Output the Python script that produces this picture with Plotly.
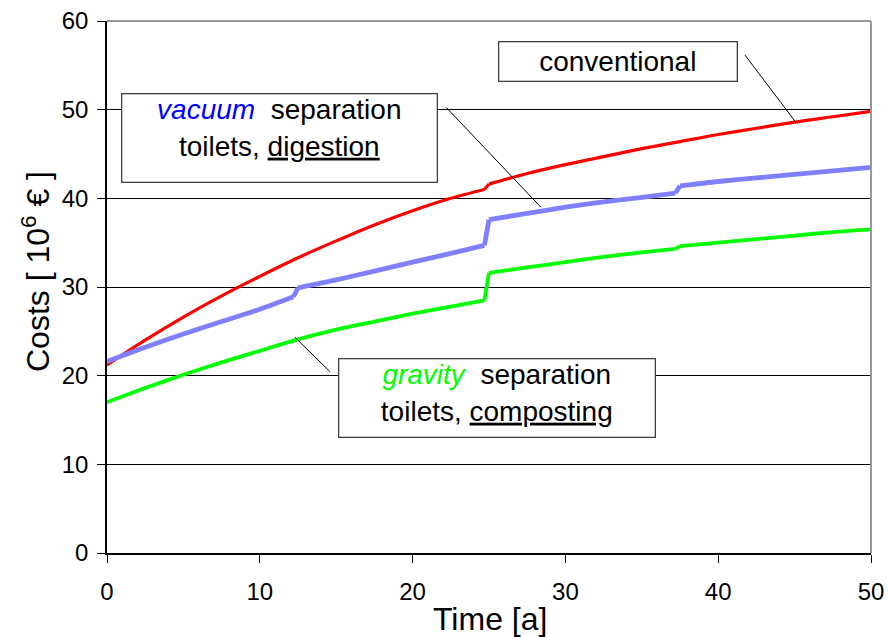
import plotly.graph_objects as go

# ---- data ----
conv_x = [0, 2.5, 5, 7.5, 10, 12.5, 15, 17.5, 20, 22.5, 24.7, 25.0, 27.5, 30, 32.5, 35, 37.5, 40, 42.5, 45, 47.5, 50]
conv_y = [21.2, 24.0, 26.6, 29.0, 31.2, 33.3, 35.2, 37.0, 38.6, 40.0, 41.0, 41.6, 42.8, 43.8, 44.7, 45.6, 46.4, 47.2, 47.9, 48.6, 49.2, 49.8]

vac_x = [0, 2.5, 5, 7.5, 10, 12.2, 12.5, 15, 17.5, 20, 22.5, 24.7, 25.0, 27.5, 30, 32.5, 35, 37.2, 37.5, 40, 42.5, 45, 47.5, 50]
vac_y = [21.6, 23.2, 24.7, 26.1, 27.5, 28.9, 29.9, 30.8, 31.8, 32.8, 33.8, 34.7, 37.6, 38.3, 39.0, 39.6, 40.1, 40.6, 41.4, 41.9, 42.3, 42.7, 43.1, 43.5]

grav_x = [0, 2.5, 5, 7.5, 10, 12.5, 15, 17.5, 20, 22.5, 24.7, 25.0, 27.5, 30, 32.5, 35, 37.2, 37.5, 40, 42.5, 45, 47.5, 50]
grav_y = [17.0, 18.6, 20.1, 21.5, 22.8, 24.1, 25.2, 26.1, 27.0, 27.8, 28.5, 31.6, 32.2, 32.8, 33.4, 33.9, 34.3, 34.6, 35.0, 35.4, 35.8, 36.2, 36.5]

x_ticks = [0, 10, 20, 30, 40, 50]
y_ticks = [0, 10, 20, 30, 40, 50, 60]

label_conv = "conventional"
label_vac = "<span style='color:#0000FF'><i>vacuum</i></span>  separation<br>toilets, <u>digestion</u>"
label_grav = "<span style='color:#00FF00'><i>gravity</i></span>  separation<br>toilets, <u>composting</u>"

FONT = "Liberation Sans, Arial, sans-serif"


def pieces(xs, ys, gap=0.5):
    """Split a series at its step jumps: smooth parts (spline) and jump parts (linear)."""
    out = []
    start = 0
    for i in range(1, len(xs)):
        if xs[i] - xs[i - 1] < gap:
            out.append(("spline", xs[start:i], ys[start:i]))
            out.append(("linear", xs[i - 1:i + 1], ys[i - 1:i + 1]))
            start = i
    out.append(("spline", xs[start:], ys[start:]))
    return out


fig = go.Figure()
for xs, ys, color, width in [
    (conv_x, conv_y, "#FF0000", 3.2),
    (vac_x, vac_y, "#8080FF", 4.8),
    (grav_x, grav_y, "#00FF00", 3.8),
]:
    for shape, px, py in pieces(xs, ys):
        fig.add_trace(go.Scatter(x=px, y=py, mode="lines",
                                 line=dict(color=color, width=width, shape=shape, smoothing=0.8),
                                 hoverinfo="skip"))

# leader lines (annotation pointers)
leaders = [
    ((41.75, 56.16), (45.1, 48.53)),
    ((22.19, 50.27), (28.40, 38.99)),
    ((12.30, 24.33), (14.59, 20.45)),
]
for (x0, y0), (x1, y1) in leaders:
    fig.add_shape(type="line", xref="x", yref="y", x0=x0, y0=y0, x1=x1, y1=y1,
                  line=dict(color="black", width=1), layer="above")

# top and right frame (gray)
fig.add_shape(type="line", xref="paper", yref="paper", x0=0, y0=1, x1=1, y1=1,
              line=dict(color="#999999", width=2), layer="above")
fig.add_shape(type="line", xref="paper", yref="paper", x0=1, y0=0, x1=1, y1=1,
              line=dict(color="#999999", width=2), layer="above")

box_common = dict(showarrow=False, bgcolor="white", bordercolor="#404040", borderwidth=1.3,
                  borderpad=0, font=dict(family=FONT, size=28, color="black"), align="center",
                  xref="x", yref="y")
fig.add_annotation(text=label_conv, x=33.41, y=55.43, width=237, height=38, **box_common)
fig.add_annotation(text=label_vac, x=11.26, y=46.75, width=314, height=87, valign="top", **box_common)
fig.add_annotation(text=label_grav, x=25.5, y=17.5, width=315, height=77, valign="top", **box_common)

# axis titles
fig.add_annotation(text="Time [a]", xref="paper", yref="paper", x=(490 - 107) / 764, y=-(619 - 553) / 532,
                   showarrow=False, font=dict(family=FONT, size=32, color="black"),
                   xanchor="center", yanchor="middle")
fig.add_annotation(text="Costs [ 10<sup>6</sup> € ]", xref="paper", yref="paper", x=-(107 - 36) / 764,
                   y=(553 - 272) / 532, textangle=-90, showarrow=False,
                   font=dict(family=FONT, size=32, color="black"), xanchor="center", yanchor="middle")

fig.update_layout(
    width=888, height=637,
    margin=dict(l=107, r=17, t=21, b=84, autoexpand=False),
    paper_bgcolor="white", plot_bgcolor="white",
    showlegend=False,
    font=dict(family=FONT, color="black"),
)
fig.update_xaxes(range=[0, 50], tickvals=x_ticks, showgrid=False, zeroline=False,
                 showline=True, linecolor="black", linewidth=1.5, automargin=False,
                 ticks="outside", ticklen=8, tickcolor="black", tickwidth=1,
                 tickfont=dict(family=FONT, size=24, color="black"), ticklabelstandoff=8)
fig.update_yaxes(range=[0, 60], tickvals=y_ticks, showgrid=True, gridcolor="black", gridwidth=1,
                 zeroline=False, showline=True, linecolor="black", linewidth=1.5, automargin=False,
                 ticks="outside", ticklen=8, tickcolor="black", tickwidth=1,
                 tickfont=dict(family=FONT, size=24, color="black"), ticklabelstandoff=4)

fig.write_html("out.html", config={"displayModeBar": False},
               post_script="document.body.style.margin='0';document.body.style.padding='0';"
                           "document.documentElement.style.overflow='hidden';")
